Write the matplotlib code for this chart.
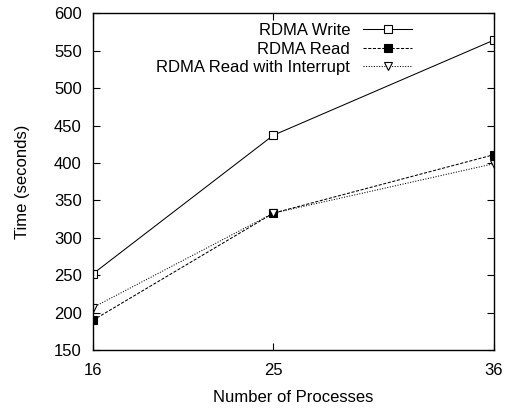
import matplotlib
matplotlib.use("Agg")
import matplotlib.pyplot as plt

plt.rcParams['font.family'] = ['Liberation Sans', 'DejaVu Sans']

processes = [16, 25, 36]
rdma_write = [252, 437, 564]
rdma_read = [190, 333, 411]
rdma_read_intr = [207, 333, 399]

fig = plt.figure(figsize=(5.08, 4.12), dpi=100)
ax = fig.add_axes([0.183, 0.150, 0.789, 0.818])

lw = 0.75
ax.plot(processes, rdma_write, color='black', lw=lw, linestyle='-',
        marker='s', markersize=5.5, markerfacecolor='white', markeredgewidth=0.8,
        label='RDMA Write')
ax.plot(processes, rdma_read, color='black', lw=lw, linestyle=(0, (3, 1.5)),
        marker='s', markersize=5.5, markerfacecolor='black', markeredgewidth=0.8,
        label='RDMA Read')
ax.plot(processes, rdma_read_intr, color='black', lw=lw, linestyle=(0, (1, 1.5)),
        marker='v', markersize=5.5, markerfacecolor='white', markeredgewidth=0.8,
        label='RDMA Read with Interrupt')

ax.set_xlim(16, 36)
ax.set_ylim(150, 600)
ax.set_xticks(processes)
ax.set_yticks(range(150, 601, 50))
ax.tick_params(direction='in', top=True, right=True, labelsize=12, length=5, width=0.8)
ax.tick_params(axis='y', pad=8)
ax.tick_params(axis='x', pad=9)
for s in ax.spines.values():
    s.set_linewidth(1.0)

ax.set_xlabel('Number of Processes', fontsize=12, labelpad=9)
ax.set_ylabel('Time (seconds)', fontsize=12, labelpad=17)

leg = ax.legend(loc='upper right', bbox_to_anchor=(0.812, 0.99), frameon=False,
                markerfirst=False, fontsize=12, handlelength=2.9, numpoints=1,
                labelspacing=0.2, handletextpad=0.8, borderaxespad=0)

fig.savefig('out.png', dpi=100)
